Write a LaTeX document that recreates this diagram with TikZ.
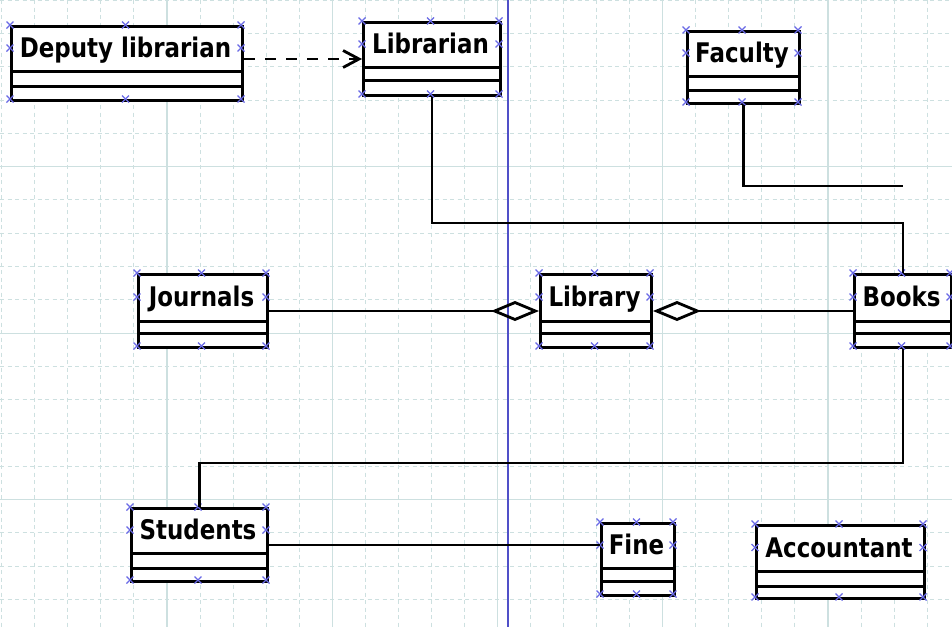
\documentclass[tikz,border=0pt]{standalone}
\usepackage{fontspec}
\setmainfont{Liberation Sans}
\newfontfamily\umlfont[FakeStretch=0.85]{DejaVu Sans}
\usetikzlibrary{arrows.meta}
\definecolor{gridline}{RGB}{205,224,224}
\definecolor{markblue}{RGB}{105,105,230}
\definecolor{guideblue}{RGB}{80,80,200}

% a small cross marking a handle on a class frame
\newcommand\handle[2]{\draw[handlemark] ({#1},{#2}) +(-3.5,-3.5) -- +(3.5,3.5) +(-3.5,3.5) -- +(3.5,-3.5);}

% UML class: name, left, top, right, header bottom, middle line, bottom, title
\newcommand\umlclass[8]{%
  \node[classframe, minimum width={#4-#2}, minimum height={#7-#3}] (#1) at (#2,#3) {};
  \draw[compartment] (#2,#5) -- (#4,#5) (#2,#6) -- (#4,#6);
  \handle{#2}{#3}\handle{(#2+#4)/2}{#3}\handle{#4}{#3}%
  \handle{#2}{(#3+#5)/2}\handle{#4}{(#3+#5)/2}%
  \handle{#2}{#7}\handle{(#2+#4)/2}{#7}\handle{#4}{#7}%
  \node[classname] (#1-title) at ({(#2+#4)/2},{(#3+#5)/2}) {#8};
}

\begin{document}
\begin{tikzpicture}[x=1pt,y=-1pt,
  classframe/.style={draw=black, line width=3pt, fill=white, inner sep=0pt, anchor=north west},
  compartment/.style={line width=3pt},
  classname/.style={font=\umlfont\bfseries\fontsize{27}{28}\selectfont, inner sep=0pt,
                    text height=19.7pt, text depth=0pt},
  handlemark/.style={draw=markblue, line width=1.1pt},
  gridminor/.style={draw=gridline, line width=1pt, dash pattern=on 4pt off 3.5pt},
  gridmajor/.style={draw=gridline, line width=1.2pt},
  assoc/.style={line width=2.8pt},
  aggregation/.style={assoc, {Diamond[open, length=48pt, width=20pt, line width=2.8pt]}-},
  dependency/.style={line width=2.8pt, dash pattern=on 11pt off 10pt,
                     -{Straight Barb[length=16pt, width=17pt, line width=2.8pt]}},
]
% canvas
\fill[white] (0,0) rectangle (952,627);
\useasboundingbox (0,0) rectangle (952,627);

% background grid
\foreach \i in {0,...,28} {\draw[gridminor] ({1.75+33.05*\i},0) -- ({1.75+33.05*\i},627);}
\foreach \j in {0,...,18} {\draw[gridminor] (0,{0.1+33.3*\j}) -- (952,{0.1+33.3*\j});}
\foreach \i in {1,...,5} {\draw[gridmajor] ({1.75+165.25*\i},0) -- ({1.75+165.25*\i},627);}
\foreach \j in {1,...,3} {\draw[gridmajor] (0,{0.1+166.5*\j}) -- (952,{0.1+166.5*\j});}

% vertical guide
\draw[guideblue, line width=1.6pt] (508,0) -- (508,627);

% classes
\umlclass{deputy}{10}{25}{241}{71}{86}{99}{Deputy librarian}
\umlclass{librarian}{362}{21}{499}{67}{80}{94}{Librarian}
\umlclass{faculty}{686}{30}{798}{76}{90}{102}{Faculty}
\umlclass{journals}{137}{273}{266}{321}{333}{346}{Journals}
\umlclass{library}{539}{273}{650}{321}{333}{346}{Library}
\umlclass{books}{853}{273}{950}{321}{333}{346}{Books}
\umlclass{students}{130}{507}{266}{553}{568}{580}{Students}
\umlclass{fine}{600}{522}{673}{568}{581}{594}{Fine}
\umlclass{accountant}{755}{524}{923}{571}{586}{597}{Accountant}

% routing rows
\coordinate (rowLib) at (0,223);
\coordinate (rowFac) at (0,186);
\coordinate (rowStu) at (0,463);

% connectors
\draw[dependency] (deputy.east |- librarian.west) -- (librarian.west);
\draw[assoc] (librarian.south) |- (books.north |- rowLib) -- (books.north);
\draw[assoc] (faculty.south) |- (books.north |- rowFac);
\draw[aggregation] (library.west) -- (journals.east);
\draw[aggregation] (library.east) -- (books.west);
\draw[assoc] (books.south) |- (students.north |- rowStu) -- (students.north);
\draw[assoc] (students.east) -- (students.east -| fine.west);
\end{tikzpicture}
\end{document}
